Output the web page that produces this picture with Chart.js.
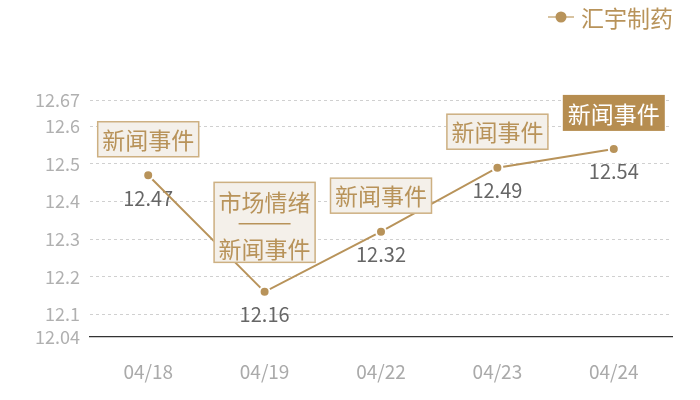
<!DOCTYPE html>
<html>
<head>
<meta charset="utf-8">
<script src="https://cdn.jsdelivr.net/npm/chart.js@4/dist/chart.umd.min.js"></script>
<style>
html,body{margin:0;padding:0;background:#fff;}
#wrap{width:700px;height:400px;}
</style>
</head>
<body>
<div id="wrap"><canvas id="c" width="700" height="400"></canvas></div>
<script>
const seriesName = '汇宇制药';
const categories = ['04/18', '04/19', '04/22', '04/23', '04/24'];
const prices = [12.47, 12.16, 12.32, 12.49, 12.54];
const eventLabels = [['新闻事件'], ['市场情绪', '新闻事件'], ['新闻事件'], ['新闻事件'], ['新闻事件']];
const highlighted = [false, false, false, false, true];
const yTicks = [12.04, 12.1, 12.2, 12.3, 12.4, 12.5, 12.6, 12.67];

const FONT = '"Noto Sans CJK SC", "Noto Sans", sans-serif';
const TAN = '#b8935a';

const labelPlugin = {
  id: 'valueLabels',
  beforeDatasetsDraw(chart) {
    const ctx = chart.ctx;
    const meta = chart.getDatasetMeta(0);
    ctx.save();
    ctx.font = '20px ' + FONT;
    ctx.fillStyle = '#666';
    ctx.textAlign = 'center';
    ctx.textBaseline = 'middle';
    meta.data.forEach((pt, i) => {
      ctx.fillText(prices[i].toFixed(2), pt.x, pt.y + 23);
    });
    ctx.restore();
  },
  afterDatasetsDraw(chart) {
    const ctx = chart.ctx;
    const meta = chart.getDatasetMeta(0);
    ctx.save();
    ctx.font = '23px ' + FONT;
    ctx.textAlign = 'center';
    ctx.textBaseline = 'middle';
    meta.data.forEach((pt, i) => {
      const lines = eventLabels[i];
      const w = 102;
      const h = lines.length === 1 ? 36 : 81;
      const bottom = pt.y - (lines.length === 1 ? 18 : 29);
      const top = bottom - h;
      const left = pt.x - w / 2;
      if (highlighted[i]) {
        ctx.fillStyle = '#b68d50';
        ctx.fillRect(left, top, w, h);
        ctx.fillStyle = '#ffffff';
      } else {
        ctx.fillStyle = '#f4f0ea';
        ctx.fillRect(left, top, w, h);
        ctx.strokeStyle = '#cdb082';
        ctx.lineWidth = 1.5;
        ctx.strokeRect(left + 0.5, top + 0.5, w - 1, h - 1);
        ctx.fillStyle = TAN;
      }
      if (lines.length === 1) {
        ctx.fillText(lines[0], pt.x, top + h / 2 + 1);
      } else {
        ctx.fillText(lines[0], pt.x, top + 20);
        ctx.fillText(lines[1], pt.x, top + 67);
        ctx.strokeStyle = TAN;
        ctx.lineWidth = 1.5;
        ctx.beginPath();
        ctx.moveTo(pt.x - 26, top + 42);
        ctx.lineTo(pt.x + 26, top + 42);
        ctx.stroke();
      }
    });
    ctx.restore();
  },
  afterDraw(chart) {
    const ctx = chart.ctx;
    ctx.save();
    ctx.strokeStyle = '#d8c3a0';
    ctx.lineWidth = 2;
    ctx.beginPath();
    ctx.moveTo(548, 17);
    ctx.lineTo(574, 17);
    ctx.stroke();
    ctx.fillStyle = TAN;
    ctx.beginPath();
    ctx.arc(561, 17, 5.5, 0, Math.PI * 2);
    ctx.fill();
    ctx.font = '23px ' + FONT;
    ctx.textAlign = 'left';
    ctx.textBaseline = 'middle';
    ctx.fillText(seriesName, 581, 18);
    ctx.restore();
  }
};

new Chart(document.getElementById('c'), {
  type: 'line',
  data: {
    labels: categories,
    datasets: [{
      label: seriesName,
      data: prices,
      borderColor: TAN,
      backgroundColor: TAN,
      borderWidth: 2,
      pointRadius: 5,
      pointBorderWidth: 2,
      pointBorderColor: '#ffffff',
      pointBackgroundColor: TAN,
      tension: 0,
      fill: false
    }]
  },
  options: {
    responsive: false,
    animation: false,
    devicePixelRatio: 1,
    layout: { padding: { top: 100, right: 28, left: 0, bottom: 0 } },
    plugins: { legend: { display: false }, tooltip: { enabled: false } },
    scales: {
      x: {
        offset: true,
        grid: { display: false, drawTicks: false },
        border: { display: true, color: '#333333', width: 1.2 },
        ticks: { color: '#aaaaaa', font: { size: 19, family: FONT }, padding: 23 },
        afterFit(s) { s.height = 63; }
      },
      y: {
        min: 12.04,
        max: 12.67,
        afterBuildTicks(s) { s.ticks = yTicks.map(v => ({ value: v })); },
        afterFit(s) { s.width = 90; },
        grid: {
          drawTicks: false,
          color: (c) => (c.tick && c.tick.value === 12.04) ? 'rgba(0,0,0,0)' : '#d0d0d0',
          lineWidth: 1
        },
        border: { display: false, dash: [3, 3] },
        ticks: {
          color: '#b0b0b0',
          font: { size: 18, family: FONT },
          padding: 10,
          autoSkip: false,
          callback: (v) => String(+(+v).toFixed(2))
        }
      }
    }
  },
  plugins: [labelPlugin]
});
</script>
</body>
</html>
